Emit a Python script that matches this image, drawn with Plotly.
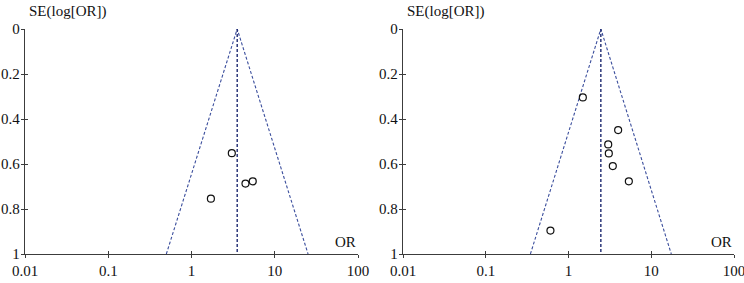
import math
import plotly.graph_objects as go

# ---- data ----
left_or = [3.05, 1.71, 4.45, 5.44]
left_se = [0.552, 0.754, 0.687, 0.677]
left_pooled_or = 3.54

right_or = [1.49, 3.98, 3.02, 3.07, 3.43, 5.36, 0.605]
right_se = [0.304, 0.449, 0.513, 0.553, 0.609, 0.677, 0.896]
right_pooled_or = 2.46

se_max = 1.0
z95 = 1.96

x_tickvals = [0.01, 0.1, 1, 10, 100]
x_ticktext = ["0.01", "0.1", "1", "10", "100"]
y_tickvals = [0, 0.2, 0.4, 0.6, 0.8, 1]
y_ticktext = ["0", "0.2", "0.4", "0.6", "0.8", "1"]

FONT = "Liberation Serif"
FUNNEL_COLOR = "#3a4d9c"
MID_COLOR = "#1d2870"
AXIS_COLOR = "#3c3c3c"

W, H = 744, 283

fig = go.Figure()


def add_panel(or_vals, se_vals, pooled, xa, ya):
    lo = math.exp(math.log(pooled) - z95 * se_max)
    hi = math.exp(math.log(pooled) + z95 * se_max)
    fig.add_trace(go.Scatter(
        x=[lo, pooled, hi], y=[se_max, 0, se_max], mode="lines",
        line=dict(color=FUNNEL_COLOR, width=1.1, dash="3px,2px"),
        xaxis=xa, yaxis=ya, showlegend=False, hoverinfo="skip"))
    fig.add_trace(go.Scatter(
        x=[pooled, pooled], y=[0, se_max], mode="lines",
        line=dict(color=MID_COLOR, width=1.4, dash="3px,2px"),
        xaxis=xa, yaxis=ya, showlegend=False, hoverinfo="skip"))
    fig.add_trace(go.Scatter(
        x=or_vals, y=se_vals, mode="markers",
        marker=dict(symbol="circle-open", size=7, color="#111111",
                    line=dict(width=1.2, color="#111111")),
        xaxis=xa, yaxis=ya, showlegend=False))


add_panel(left_or, left_se, left_pooled_or, "x", "y")
add_panel(right_or, right_se, right_pooled_or, "x2", "y2")

# empty traces so the overlay (inside-tick) axes render
for xa, ya in [("x3", "y3"), ("x4", "y4")]:
    fig.add_trace(go.Scatter(x=[], y=[], xaxis=xa, yaxis=ya,
                             showlegend=False, hoverinfo="skip"))

ydom = [(H - 254) / H, (H - 29) / H]
xdom1 = [25 / W, 358 / W]
xdom2 = [403 / W, 734 / W]

xbase = dict(type="log", range=[-2, 2], showgrid=False, zeroline=False,
             automargin=False, ticklabeloverflow="allow",
             showline=True, linecolor=AXIS_COLOR, linewidth=1.3,
             ticks="outside", ticklen=3, tickwidth=1, tickcolor=AXIS_COLOR,
             tickvals=x_tickvals, ticktext=x_ticktext,
             tickfont=dict(family=FONT, size=15, color="#111111"))
ybase = dict(range=[1, 0], showgrid=False, zeroline=False,
             automargin=False, ticklabeloverflow="allow",
             showline=True, linecolor=AXIS_COLOR, linewidth=1.3,
             ticks="outside", ticklen=3, tickwidth=1, tickcolor=AXIS_COLOR,
             tickvals=y_tickvals, ticktext=y_ticktext, ticklabelstandoff=-2,
             tickfont=dict(family=FONT, size=15, color="#111111"))

xin = dict(type="log", range=[-2, 2], showgrid=False, zeroline=False,
           automargin=False,
           showline=False, ticks="inside", ticklen=3, tickwidth=1,
           tickcolor=AXIS_COLOR, tickvals=x_tickvals, showticklabels=False)
yin = dict(range=[1, 0], showgrid=False, zeroline=False, showline=False,
           automargin=False,
           ticks="inside", ticklen=3, tickwidth=1, tickcolor=AXIS_COLOR,
           tickvals=y_tickvals, showticklabels=False)

fig.update_layout(
    width=W, height=H,
    margin=dict(l=0, r=0, t=0, b=0, pad=0),
    paper_bgcolor="white", plot_bgcolor="white",
    font=dict(family=FONT, size=15, color="#111111"),
    xaxis=dict(xbase, domain=xdom1, anchor="y"),
    yaxis=dict(ybase, domain=ydom, anchor="x"),
    xaxis2=dict(xbase, domain=xdom2, anchor="y2"),
    yaxis2=dict(ybase, domain=ydom, anchor="x2"),
    xaxis3=dict(xin, domain=xdom1, anchor="y", overlaying="x"),
    yaxis3=dict(yin, domain=ydom, anchor="x", overlaying="y"),
    xaxis4=dict(xin, domain=xdom2, anchor="y2", overlaying="x2"),
    yaxis4=dict(yin, domain=ydom, anchor="x2", overlaying="y2"),
)

# axis titles placed as in the reference (top-left and bottom-right of each panel)
for xdom in (xdom1, xdom2):
    fig.add_annotation(text="SE(log[OR])", xref="paper", yref="paper",
                       x=xdom[0] + 2 / W, y=ydom[1] + 17 / H,
                       xanchor="left", yanchor="middle",
                       showarrow=False, font=dict(family=FONT, size=15))
    fig.add_annotation(text="OR", xref="paper", yref="paper",
                       x=xdom[1], y=ydom[0] + 2 / H,
                       xanchor="right", yanchor="bottom",
                       showarrow=False, font=dict(family=FONT, size=15))

fig.write_html("out.html", config={"displayModeBar": False},
               post_script="document.body.style.margin='0';")
